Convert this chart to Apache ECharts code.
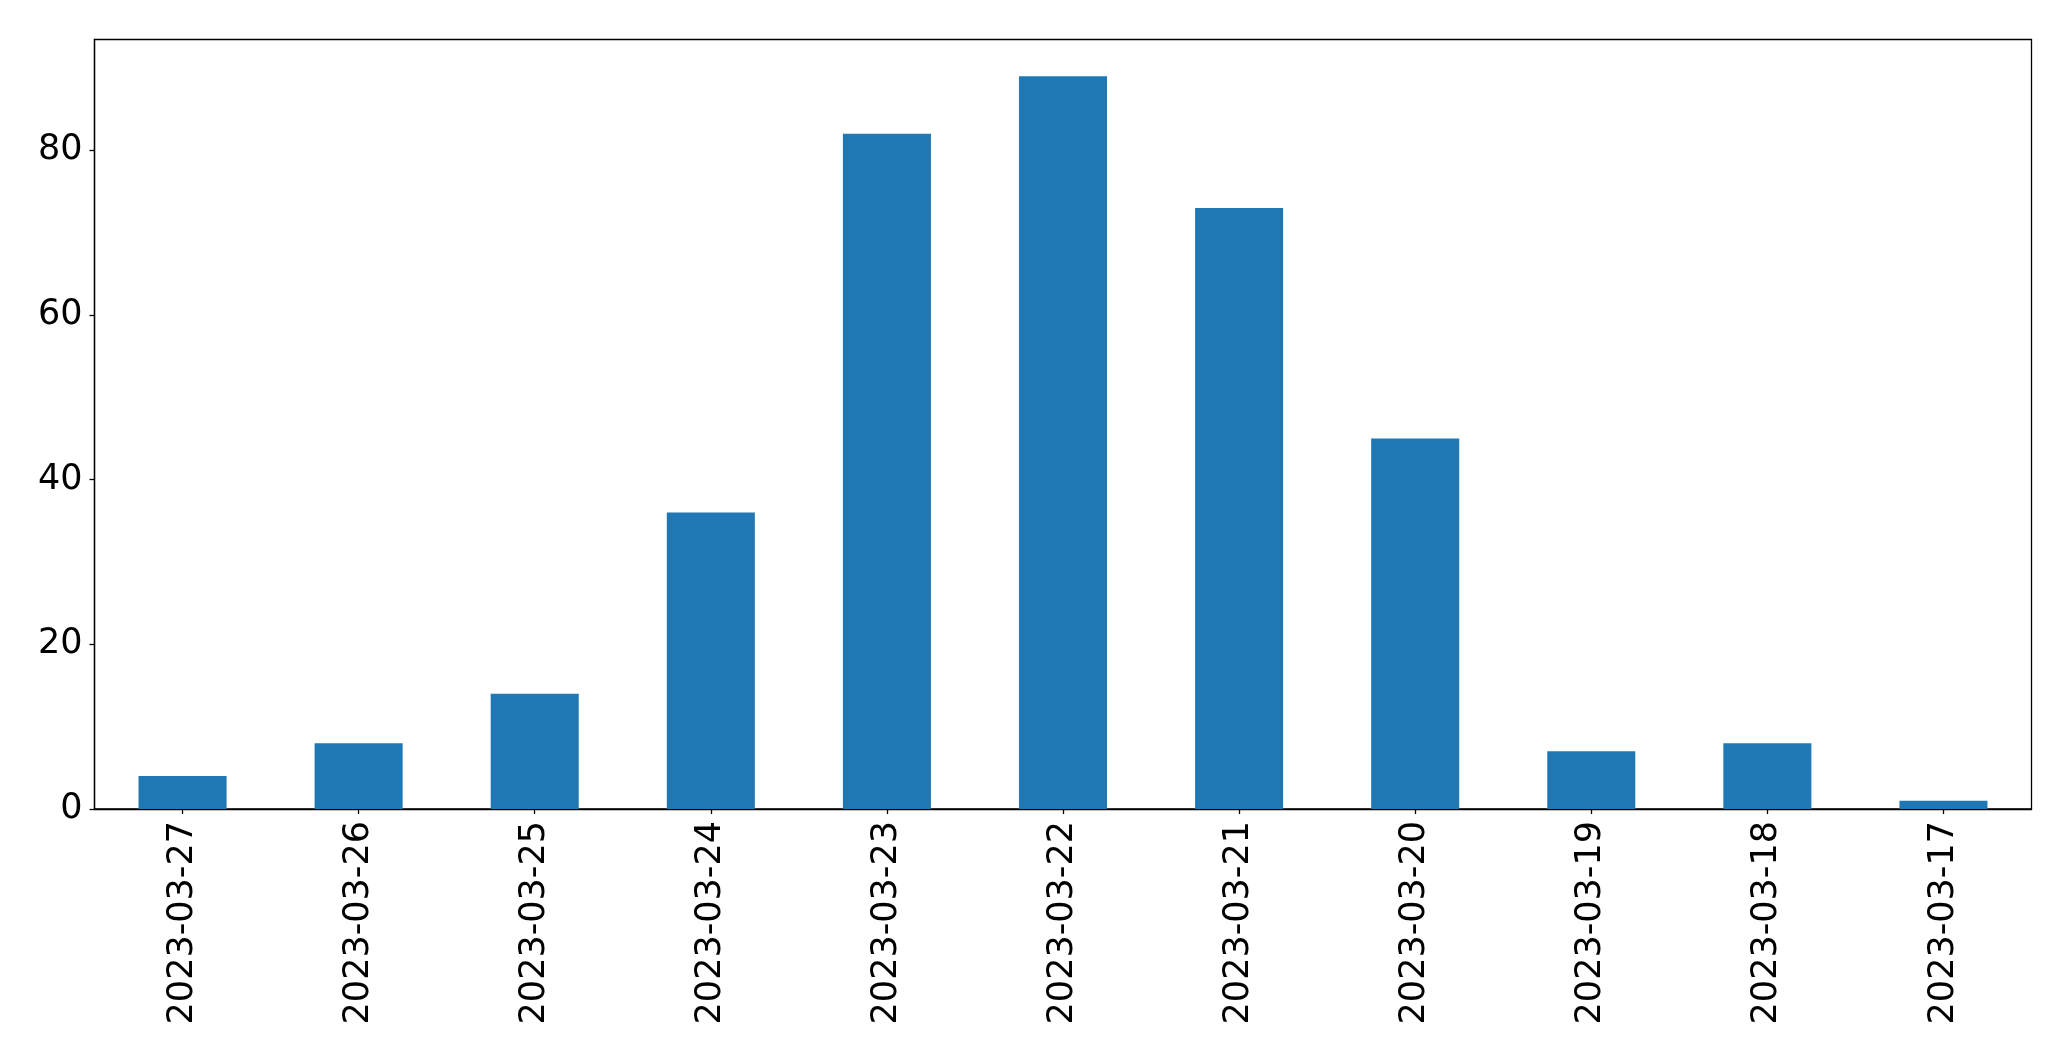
<!DOCTYPE html>
<html>
<head>
<meta charset="utf-8">
<script src="https://cdn.jsdelivr.net/npm/echarts@6/dist/echarts.min.js"></script>
<style>
html,body{margin:0;padding:0;background:#fff;}
#chart{width:2071px;height:1061px;}
</style>
</head>
<body>
<div id="chart"></div>
<script>
const categories = ['2023-03-27','2023-03-26','2023-03-25','2023-03-24','2023-03-23','2023-03-22','2023-03-21','2023-03-20','2023-03-19','2023-03-18','2023-03-17'];
const values = [4, 8, 14, 36, 82, 89, 73, 45, 7, 8, 1];
const yTicks = [0, 20, 40, 60, 80];

const chart = echarts.init(document.getElementById('chart'), null, {renderer: 'canvas'});
const font = 'DejaVu Sans';
chart.setOption({
  animation: false,
  backgroundColor: '#ffffff',
  grid: {
    left: 94.5, top: 39.5, right: 39.5, bottom: 252,
    show: true, borderColor: '#000', borderWidth: 1.3, containLabel: false
  },
  xAxis: {
    type: 'category',
    data: categories,
    boundaryGap: true,
    axisLine: {show: true, lineStyle: {color: '#000', width: 1.3}},
    axisTick: {show: true, alignWithLabel: true, length: 5, lineStyle: {color: '#000', width: 1.3}},
    axisLabel: {rotate: 90, fontSize: 35, fontFamily: font, color: '#000', margin: 12, interval: 0},
    splitLine: {show: false}
  },
  yAxis: {
    type: 'value',
    min: 0,
    max: 93.45,
    interval: 20,
    axisLine: {show: true, lineStyle: {color: '#000', width: 1.3}},
    axisTick: {show: true, length: 5, customValues: yTicks, lineStyle: {color: '#000', width: 1.3}},
    axisLabel: {fontSize: 35, fontFamily: font, color: '#000', margin: 12, customValues: yTicks},
    splitLine: {show: false}
  },
  series: [{
    type: 'bar',
    data: values,
    barWidth: '50%',
    itemStyle: {color: '#1f77b4'}
  }]
});
</script>
</body>
</html>
